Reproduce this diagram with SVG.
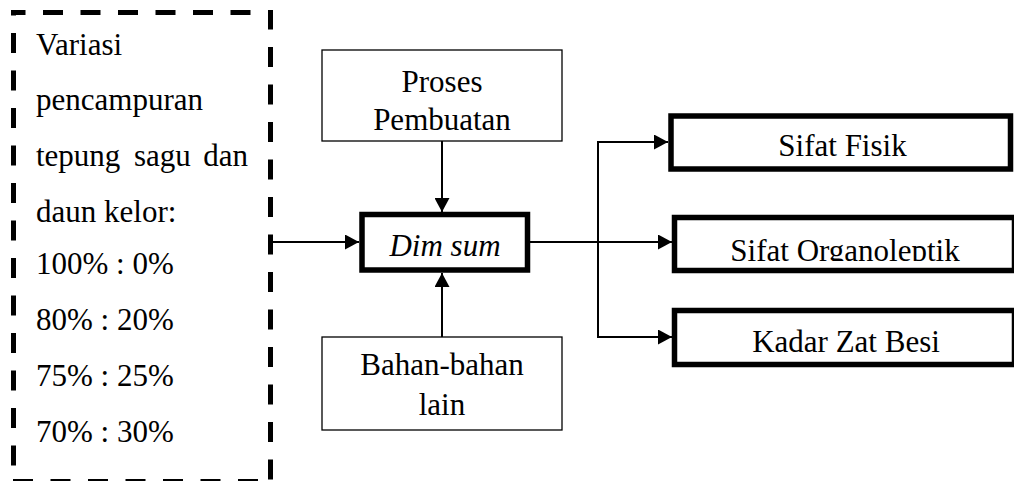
<svg xmlns="http://www.w3.org/2000/svg" width="1014" height="481" viewBox="0 0 1014 481">
  <style>
    text { font-family: "Liberation Serif", "Times New Roman", serif; font-size: 31px; fill: #000; }
    .mid { text-anchor: middle; }
    .thin { fill: #fff; stroke: #000; stroke-width: 1.3; }
    .thick { fill: #fff; stroke: #000; stroke-width: 5.5; }
    .dash { stroke: #000; stroke-width: 5; stroke-dasharray: 20 17.5; fill: none; }
    .conn { stroke: #000; stroke-width: 2; fill: none; }
  </style>
  <defs>
    <marker id="arr" markerUnits="userSpaceOnUse" markerWidth="14" markerHeight="15" refX="14" refY="7.5" orient="auto">
      <path d="M0,0 L14,7.5 L0,15 Z" fill="#000"/>
    </marker>
    <clipPath id="clipOrg">
      <rect x="677" y="220" width="337" height="41"/>
    </clipPath>
  </defs>

  <g id="variasi">
    <line class="dash" x1="11" y1="12.5" x2="273" y2="12.5" stroke-dashoffset="5.5"/>
    <line class="dash" x1="11" y1="481.5" x2="273" y2="481.5" stroke-dashoffset="35.5"/>
    <line class="dash" x1="13.5" y1="10" x2="13.5" y2="481" stroke-dashoffset="14.5"/>
    <line class="dash" x1="270.5" y1="10" x2="270.5" y2="481" stroke-dashoffset="0.5"/>
    <text x="36" y="55">Variasi</text>
    <text x="36" y="110">pencampuran</text>
    <text x="36" y="166">tepung</text>
    <text x="134" y="166">sagu</text>
    <text x="248" y="166" text-anchor="end">dan</text>
    <text x="36" y="222">daun kelor:</text>
    <text x="36" y="274">100% : 0%</text>
    <text x="36" y="330">80% : 20%</text>
    <text x="36" y="386">75% : 25%</text>
    <text x="36" y="442">70% : 30%</text>
  </g>

  <g id="proses">
    <rect class="thin" x="322" y="50" width="240" height="91"/>
    <text class="mid" x="442" y="92">Proses</text>
    <text class="mid" x="442" y="130">Pembuatan</text>
  </g>

  <g id="bahan">
    <rect class="thin" x="322" y="337" width="240" height="93"/>
    <text class="mid" x="442" y="375">Bahan-bahan</text>
    <text class="mid" x="442" y="415">lain</text>
  </g>

  <g id="dimsum">
    <rect class="thick" x="362" y="214.5" width="165.5" height="55.5"/>
    <text class="mid" x="445" y="256" font-style="italic">Dim sum</text>
  </g>

  <g id="fisik">
    <rect class="thick" x="671" y="116" width="339.5" height="53"/>
    <text class="mid" x="842.5" y="156">Sifat Fisik</text>
  </g>

  <g id="organoleptik">
    <rect class="thick" x="674.5" y="217.5" width="340" height="53"/>
    <text class="mid" x="845" y="261" clip-path="url(#clipOrg)">Sifat Organoleptik</text>
  </g>

  <g id="besi">
    <rect class="thick" x="674.5" y="310.5" width="340" height="54"/>
    <text class="mid" x="846" y="352">Kadar Zat Besi</text>
  </g>

  <g id="connectors">
    <line class="conn" x1="273" y1="242" x2="359" y2="242" marker-end="url(#arr)"/>
    <line class="conn" x1="442" y1="141" x2="442" y2="212" marker-end="url(#arr)"/>
    <line class="conn" x1="442" y1="337" x2="442" y2="273" marker-end="url(#arr)"/>
    <line class="conn" x1="530" y1="242" x2="672" y2="242" marker-end="url(#arr)"/>
    <line class="conn" x1="598" y1="141" x2="598" y2="338"/>
    <line class="conn" x1="597" y1="142" x2="668" y2="142" marker-end="url(#arr)"/>
    <line class="conn" x1="597" y1="337" x2="672" y2="337" marker-end="url(#arr)"/>
  </g>
</svg>
